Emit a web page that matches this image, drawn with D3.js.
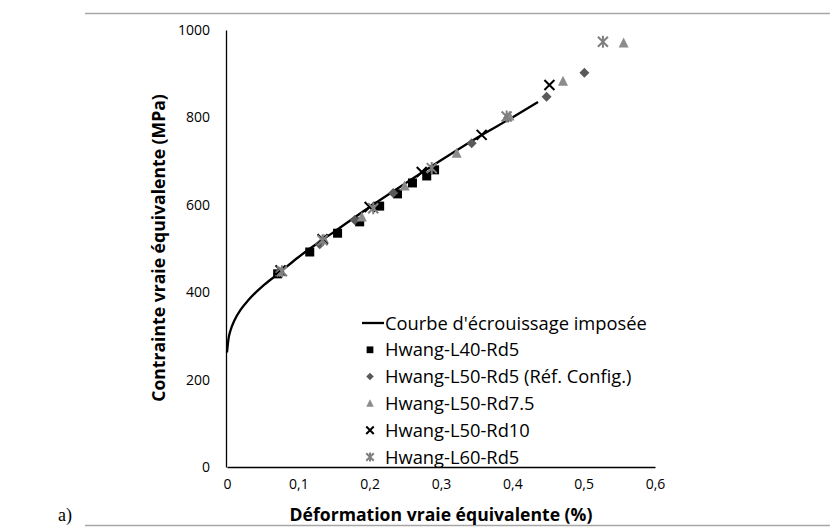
<!DOCTYPE html>
<html><head><meta charset="utf-8">
<script src="https://cdn.jsdelivr.net/npm/d3@7"></script>
<style>body{margin:0;background:#fff}svg{display:block}</style>
</head><body>
<svg id="c" width="830" height="527"></svg>
<script>
// ---- data ----
const xTicks = [0, 0.1, 0.2, 0.3, 0.4, 0.5, 0.6];
const yTicks = [0, 200, 400, 600, 800, 1000];
const curveStrain = [0, 0.002, 0.005, 0.01, 0.02, 0.03, 0.04, 0.05, 0.07, 0.1, 0.15, 0.2, 0.25, 0.3, 0.35, 0.4, 0.436];
const curveStress = [262, 292, 313, 334, 362, 382, 399, 414, 440, 480, 538, 595, 649, 702, 753, 800, 835];
const l40 = [[0.071,442],[0.116,492],[0.155,535],[0.186,561],[0.214,597],[0.239,625],[0.260,650],[0.280,666],[0.291,680]];
const l50rd5 = [[0.074,446],[0.130,510],[0.179,565],[0.233,627],[0.343,741],[0.394,799],[0.448,847],[0.501,902]];
const l50rd75 = [[0.074,447],[0.136,522],[0.189,572],[0.249,643],[0.322,718],[0.396,803],[0.471,883],[0.556,970]];
const l50rd10 = [[0.075,450],[0.134,521],[0.200,595],[0.273,675],[0.357,760],[0.452,874]];
const l60rd5 = [[0.077,448],[0.134,519],[0.205,592],[0.287,684],[0.392,802],[0.527,973]];
const legendLabels = ["Courbe d'écrouissage imposée","Hwang-L40-Rd5","Hwang-L50-Rd5 (Réf. Config.)","Hwang-L50-Rd7.5","Hwang-L50-Rd10","Hwang-L60-Rd5"];
const xTitle = "Déformation vraie équivalente (%)";
const yTitle = "Contrainte vraie équivalente (MPa)";

const svg = d3.select("#c");
const FONT = "'Open Sans', sans-serif";
const x = d3.scaleLinear().domain([0, 0.6]).range([227, 655]);
const y = d3.scaleLinear().domain([0, 1000]).range([467, 30]);

// outer frame lines
svg.append("line").attr("x1",85).attr("x2",830).attr("y1",13.5).attr("y2",13.5).attr("stroke","#a6a6a6").attr("stroke-width",1.5);
svg.append("line").attr("x1",85).attr("x2",830).attr("y1",525.5).attr("y2",525.5).attr("stroke","#a6a6a6").attr("stroke-width",1.5);
svg.append("text").attr("x",58).attr("y",521).attr("font-family","'Liberation Serif', serif").attr("font-size",18).text("a)");

// axes
const fmt = d => d === 0 ? "0" : String(d).replace(".", ",");
const xAxis = svg.append("g").attr("transform","translate(0,467)")
  .call(d3.axisBottom(x).tickValues(xTicks).tickSize(0).tickPadding(12).tickFormat(fmt));
const yAxis = svg.append("g").attr("transform","translate(226,0)")
  .call(d3.axisLeft(y).tickValues(yTicks).tickSize(0).tickPadding(16).tickFormat(d3.format("d")));
[xAxis, yAxis].forEach(g => {
  g.select(".domain").attr("stroke","#000").attr("stroke-width",1.3);
  g.selectAll("text").attr("font-family",FONT).attr("font-size",14).attr("fill","#000");
});

// curve
const curvePts = curveStrain.map((e,i)=>[e, curveStress[i]]);
svg.append("path").datum(curvePts)
  .attr("d", d3.line().x(d=>x(d[0])).y(d=>y(d[1])).curve(d3.curveMonotoneX))
  .attr("fill","none").attr("stroke","#000").attr("stroke-width",2.3);

// marker drawers
function square(g, s, c){ g.append("rect").attr("x",-s/2).attr("y",-s/2).attr("width",s).attr("height",s).attr("fill",c); }
function diamond(g, s, c){ g.append("path").attr("d",`M0,${-s/2}L${s/2},0L0,${s/2}L${-s/2},0Z`).attr("fill",c); }
function triangle(g, s, c){ g.append("path").attr("d",`M0,${-s*0.55}L${s/2},${s*0.45}L${-s/2},${s*0.45}Z`).attr("fill",c); }
function cross(g, s, c, w){ const h=s/2; g.append("path").attr("d",`M${-h},${-h}L${h},${h}M${-h},${h}L${h},${-h}`).attr("stroke",c).attr("stroke-width",w).attr("fill","none"); }
function star(g, s, c, w){ const h=s/2; g.append("path").attr("d",`M${-h},${-h}L${h},${h}M${-h},${h}L${h},${-h}M0,${-h*1.2}L0,${h*1.2}`).attr("stroke",c).attr("stroke-width",w).attr("fill","none"); }

const series = [
  {data:l40, draw:(g,k)=>square(g,9*k,"#000")},
  {data:l50rd5, draw:(g,k)=>diamond(g,10*k,"#595959")},
  {data:l50rd75, draw:(g,k)=>triangle(g,10*k,"#8c8c8c")},
  {data:l50rd10, draw:(g,k)=>cross(g,10*k,"#000",2)},
  {data:l60rd5, draw:(g,k)=>star(g,10*k,"#7f7f7f",2)}
];
series.forEach(s=>{
  s.data.forEach(d=>{
    const g = svg.append("g").attr("transform",`translate(${x(d[0])},${y(d[1])})`);
    s.draw(g,1);
  });
});

// legend
const legY0 = 323, legStep = 26.8, legX = 385;
const leg = svg.append("g");
legendLabels.forEach((lab,i)=>{
  const cy = legY0 + i*legStep;
  const t = leg.append("text").attr("x",legX).attr("y",cy).attr("dy","0.36em")
    .attr("font-family",FONT).attr("font-size",16).attr("fill","#000").text(lab);
  if(i===0){
    const w = t.node().getComputedTextLength();
    const fs = 16*262/w;
    leg.selectAll("text").attr("font-size",fs);
    leg.attr("data-fs",fs);
  } else {
    t.attr("font-size", +leg.attr("data-fs"));
  }
  if(i===0){
    leg.append("line").attr("x1",362).attr("x2",384).attr("y1",cy).attr("y2",cy).attr("stroke","#000").attr("stroke-width",2.3);
  } else {
    const g = leg.append("g").attr("transform",`translate(370,${cy})`);
    series[i-1].draw(g,0.75);
  }
});

// axis titles
const xt = svg.append("text").attr("x",441).attr("y",515).attr("dy","0.36em").attr("text-anchor","middle")
  .attr("font-family",FONT).attr("font-weight","bold").attr("font-size",15).text(xTitle);
const wx = xt.node().getComputedTextLength();
const tfs = 15*303/wx;
xt.attr("font-size",tfs);
svg.append("text").attr("transform","translate(159,248) rotate(-90)").attr("dy","0.36em").attr("text-anchor","middle")
  .attr("font-family",FONT).attr("font-weight","bold").attr("font-size",tfs).text(yTitle);
</script>
</body></html>
